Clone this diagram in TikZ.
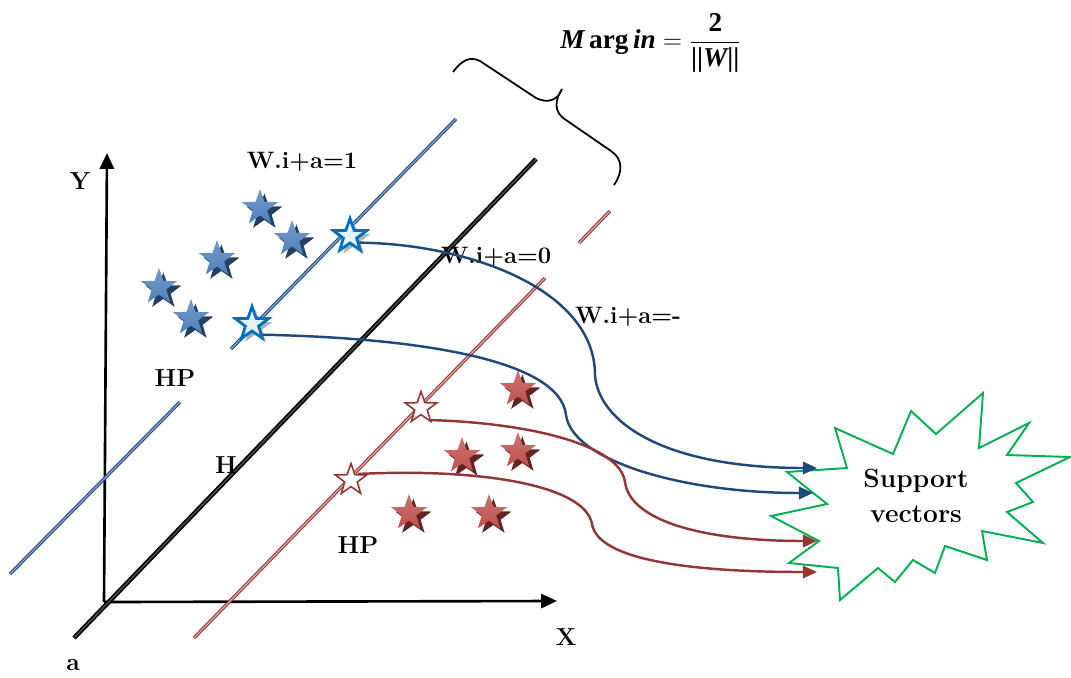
\documentclass[tikz,border=0pt]{standalone}
\usepackage{amsmath}
\usepackage{fontspec}
\newfontfamily\tms{Liberation Serif}
\usepackage{tikz}
\usetikzlibrary{arrows.meta,positioning,shapes.geometric,shadows}

\definecolor{starblue}{HTML}{4F81BD}
\definecolor{shadeblue}{HTML}{243F60}
\definecolor{svblue}{HTML}{0070C0}
\definecolor{lineblue}{HTML}{1F497D}
\definecolor{starred}{HTML}{C0504D}
\definecolor{shadered}{HTML}{632523}
\definecolor{linered}{HTML}{943634}
\definecolor{burstgreen}{HTML}{00B050}

\begin{document}
\begin{tikzpicture}[
  x=0.02cm, y=-0.02cm,
  lbl/.style={font=\fontsize{14}{16}\selectfont\bfseries, inner sep=0pt},
  eqn/.style={font=\fontsize{13.5}{15}\selectfont\bfseries, inner sep=0pt},
  frm/.style={font=\fontsize{15.5}{18}\selectfont, inner sep=0pt},
  pt/.style={star, star points=5, star point ratio=2.5, inner sep=0pt},
  bstar/.style={pt, minimum size=0.76cm, top color=starblue!80!white, bottom color=starblue,
    drop shadow={shadow xshift=2.5pt, shadow yshift=-2.5pt, fill=shadeblue, opacity=1}},
  rstar/.style={pt, minimum size=0.76cm, top color=starred!80!white, bottom color=starred,
    drop shadow={shadow xshift=2.5pt, shadow yshift=-2.5pt, fill=shadered, opacity=1}},
  bsv/.style={pt, minimum size=0.7cm, draw=svblue, line width=1.6pt, fill=svblue!10,
    drop shadow={shadow xshift=2pt, shadow yshift=-2pt, fill=gray!60, opacity=1}},
  rsv/.style={pt, minimum size=0.66cm, draw=linered, line width=0.9pt, fill=white},
  hp/.style={double, double distance=0.7pt, line width=0.6pt},
  axis/.style={-{Triangle[length=9pt,width=8pt]}, line width=1.5pt},
  arr/.style={-{Triangle[length=8pt,width=7pt]}, line width=1.4pt}
]
\useasboundingbox (0,0) rectangle (1071,677);

% axes
\coordinate (o) at (104,602);
\coordinate (ytip) at (107,153);
\coordinate (xtip) at (557,601);
\draw[axis] (o) -- (ytip);
\draw[axis] (o) -- (xtip);
\node[lbl] (ylab) at (80,181) {Y};
\node[lbl] (xlab) at (566,637) {X};
\node[lbl] (alab) at (73,665) {a};

% hyperplanes
\draw[hp, draw=lineblue, double=starblue!70] (10,574) -- (180,402);
\draw[hp, draw=lineblue, double=starblue!70] (231,349) -- (456,119);
\draw[hp, line width=0.9pt, double distance=0.8pt, draw=black, double=gray!60!black] (74,638) -- (536,159);
\draw[hp, draw=linered, double=starred!50] (194,638) -- (545,278);
\draw[hp, draw=linered, double=starred!50] (579,243) -- (610,211);

% margin
\draw[line width=1pt] (453,72) .. controls (462,60) and (470,56) .. (480,61) -- (536,98)
  .. controls (548,104) and (558,100) .. (562,89)
  .. controls (555,100) and (553,112) .. (566,120) -- (611,151)
  .. controls (623,159) and (623,172) .. (614,185);
\node[frm] (margin) at (651,43) {{\tms\bfseries\itshape M\,}{\tms\bfseries arg\,}{\tms\bfseries\itshape in}${}=\dfrac{\text{\tms\bfseries 2}}{\text{\tms\bfseries||\itshape W\upshape||}}$};

% labels
\node[eqn] (eq1) at (302,162) {W.i+a=1};
\node[eqn] (eq0) at (496,257) {W.i+a=0};
\node[eqn] (eqm) at (628,317) {W.i+a=-};
\node[lbl] (hpup) at (175,378) {HP};
\node[lbl] (hlab) at (226,465) {H};
\node[lbl] (hpdn) at (358,545) {HP};

% class +1
\node[bstar] (b1) at (260,208) {};
\node[bstar] (b2) at (292,239) {};
\node[bstar] (b3) at (217,259) {};
\node[bstar] (b4) at (159,287) {};
\node[bstar] (b5) at (191,318) {};
\node[bsv] (hb1) at (350,236) {};
\node[bsv] (hb2) at (252,324) {};

% class -1
\node[rstar] (r1) at (518,389) {};
\node[rstar] (r2) at (462,456) {};
\node[rstar] (r3) at (518,451) {};
\node[rstar] (r4) at (409,513) {};
\node[rstar] (r5) at (489,513) {};
\node[rsv] (hr1) at (421,408) {};
\node[rsv] (hr2) at (351,480) {};

% support vectors
\draw[burstgreen, line width=1.1pt] (983,393) -- (979,448) -- (1029,423) -- (1007,455)
  -- (1070,457) -- (1016,483) -- (1033,502) -- (1007,512) -- (1043,543) -- (982,531)
  -- (987,560) -- (945,546) -- (935,573) -- (913,560) -- (895,582) -- (878,568)
  -- (840,600) -- (838,568) -- (789,563) -- (819,541) -- (771,516) -- (827,504)
  -- (787,472) -- (847,468) -- (835,428) -- (893,454) -- (911,411) -- (936,434) -- cycle;
\node[font=\fontsize{15}{20}\selectfont\bfseries, align=center] (sv) at (916,496) {Support\\vectors};
\coordinate (sv1) at (817,468);
\coordinate (sv2) at (813,493);
\coordinate (sv3) at (817,541);
\coordinate (sv4) at (817,572);

\draw[arr, lineblue] (hb1.-35) .. controls (470,244) and (595,290) .. (595,375)
  .. controls (598,420) and (660,468) .. (sv1);
\draw[arr, lineblue] (hb2.-45) .. controls (420,338) and (560,360) .. (566,415)
  .. controls (572,460) and (680,493) .. (sv2);
\draw[arr, linered] (hr1.-50) .. controls (530,423) and (620,445) .. (625,482)
  .. controls (630,520) and (700,541) .. (sv3);
\draw[arr, linered] (hr2.40) .. controls (480,468) and (585,485) .. (592,524)
  .. controls (598,560) and (690,572) .. (sv4);
\end{tikzpicture}
\end{document}
